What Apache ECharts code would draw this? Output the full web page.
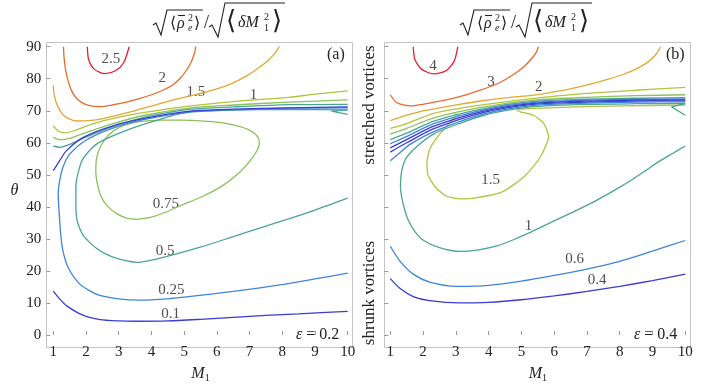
<!DOCTYPE html>
<html>
<head>
<meta charset="utf-8">
<script src="https://cdn.jsdelivr.net/npm/echarts@6/dist/echarts.min.js"></script>
<style>
  html, body { margin: 0; padding: 0; background: #fff; }
  #chart { width: 717px; height: 388px; }
</style>
</head>
<body>
<div id="chart"></div>
<script>
  // ---- data: contour lines, [M1, theta] ----
  const xTicks = [1, 2, 3, 4, 5, 6, 7, 8, 9, 10];
  const yTicks = [0, 10, 20, 30, 40, 50, 60, 70, 80, 90];

  // panel (a), epsilon = 0.2
  const a_25 = [[2.04, 90], [2.08, 86], [2.25, 83], [2.58, 81.6], [2.9, 82.5], [3.15, 85], [3.32, 90]];
  const a_2 = [[1.31, 90], [1.33, 86.5], [1.38, 82.5], [1.46, 79], [1.56, 76.2], [1.7, 74], [1.9, 72.4], [2.15, 71.5], [2.45, 71.3], [2.8, 71.8], [3.2, 72.6], [3.6, 73.7], [4.0, 75], [4.35, 76.4], [4.67, 78.2], [4.9, 80.4], [5.08, 82.8], [5.22, 85.3], [5.31, 87.8], [5.36, 90]];
  const a_15 = [[1, 78], [1.02, 75.5], [1.08, 72.8], [1.18, 70.5], [1.31, 68.6], [1.5, 67.4], [1.72, 66.8], [2.05, 66.9], [2.43, 67.4], [2.9, 68.5], [3.45, 69.9], [4.05, 71.6], [4.67, 73.4], [5.3, 74.9], [5.9, 76.5], [6.45, 78.5], [6.91, 80.9], [7.25, 83.2], [7.53, 85.4], [7.75, 87.6], [7.91, 90]];
  const a_1 = [[1, 65.3], [1.15, 63.7], [1.35, 63.1], [1.7, 64], [2.2, 65.9], [3, 68], [4, 69.8], [5.2, 71.5], [6, 72.4], [7, 73.3], [8.2, 74.2], [9, 75.2], [10, 76.2]];
  const a_075u = [[1, 61.7], [1.2, 61], [1.5, 61.4], [2, 63.2], [2.8, 65.9], [3.8, 68.6], [5.2, 70.9], [6.5, 71.8], [8.2, 72.7], [10, 73.4]];
  const a_075loop = [[3.55, 36.1], [4.0, 36.8], [4.45, 38.4], [4.87, 40.3], [5.59, 43.4], [6.2, 46.8], [6.7, 50.8], [7.05, 54.8], [7.25, 58], [7.3, 60.3], [7.2, 62.5], [6.95, 64.2], [6.5, 65.6], [5.85, 66.6], [5.0, 67.1], [4.26, 67.1], [3.6, 66.5], [3.05, 65], [2.7, 62.5], [2.45, 59], [2.32, 55], [2.3, 51], [2.35, 47], [2.45, 43.5], [2.65, 40.3], [2.95, 37.8], [3.25, 36.5], [3.55, 36.1]];
  const a_050u = [[1, 59], [1.2, 58.6], [1.5, 59.5], [2, 61.8], [2.8, 65], [3.8, 68], [5.2, 70.5], [6.5, 71.2], [8.2, 71.9], [10, 72]];
  const a_050 = [[10, 42.7], [9, 39], [8, 35.6], [7.53, 34.1], [6.5, 30.7], [5.49, 27.4], [4.5, 24.6], [3.55, 22.7], [2.94, 23.9], [2.6, 25.3], [2.33, 27], [2.1, 29], [1.92, 31], [1.8, 33.5], [1.72, 36.1], [1.69, 40], [1.69, 46.2], [1.75, 50.3], [1.9, 54.9], [2.31, 59.5], [3.02, 63], [4, 66.5], [5.2, 69.8], [6.5, 70.2], [8.2, 70.4], [10, 70.3]];
  const a_050cusp = [[10, 70.3], [9.5, 69.9], [10, 68.9]];
  const a_025 = [[10, 19.3], [9, 17.5], [8.03, 15.8], [6.5, 13.6], [5, 11.8], [4.5, 11.3], [3.65, 10.9], [3, 11.3], [2.33, 12.7], [1.82, 15.8], [1.46, 20.9], [1.3, 26], [1.23, 31], [1.18, 38], [1.15, 44], [1.2, 48.5], [1.3, 52.5], [1.49, 56.3], [2, 60.8], [2.82, 64.6], [3.83, 67.4], [5.2, 69.6], [6.5, 70.3], [8.2, 70.8], [10, 70.9]];
  const a_010u = [[1, 51.3], [1.2, 54.5], [1.39, 57.4], [1.9, 61.6], [2.82, 65.3], [3.83, 67.7], [5.2, 69.9], [6.5, 70.5], [8.2, 70.9], [10, 71.2]];
  const a_010 = [[1, 13.7], [1.2, 11.2], [1.41, 9.1], [1.92, 6.1], [2.43, 4.8], [3, 4.4], [3.5, 4.3], [4.5, 4.4], [5.5, 4.9], [6.5, 5.5], [7.5, 6.1], [8.5, 6.6], [10, 7.4]];
  const a_labels = [[2.76, 86.1, '2.5'], [4.33, 80.1, '2'], [5.36, 75.9, '1.5'], [7.12, 75, '1'], [4.44, 41, '0.75'], [4.42, 26.3, '0.5'], [4.61, 14.1, '0.25'], [4.59, 6.5, '0.1']];

  // panel (b), epsilon = 0.4
  const b_4 = [[1.7, 90], [1.75, 86], [1.95, 83], [2.33, 81.5], [2.7, 82.5], [2.95, 85.5], [3.06, 90]];
  const b_3 = [[1, 75], [1.2, 72.5], [1.61, 71.5], [2.3, 72.6], [3.03, 74.2], [3.7, 76.3], [4.3, 78.6], [4.76, 81.3], [5.1, 84], [5.32, 86.4], [5.46, 88.4], [5.52, 90]];
  const b_2 = [[1, 66.9], [1.4, 68.3], [1.85, 69.6], [2.33, 70.6], [3.1, 72], [3.86, 73.2], [4.6, 74.1], [5.38, 74.9], [6, 75.9], [6.59, 77.1], [7.1, 78.3], [7.6, 79.7], [8.12, 81.4], [8.55, 83.3], [8.9, 85.5], [9.12, 87.8], [9.25, 90]];
  const b_15u = [[1, 64.5], [1.5, 66], [2.33, 69.2], [3.86, 71.9], [5.38, 73.9], [7, 75.4], [8.5, 76.4], [10, 77.3]];
  const b_15loop = [[10, 71.8], [8, 71.5], [6, 71], [4.95, 70.5], [4.86, 70.1], [5.37, 68.6], [5.68, 66.1], [5.83, 62], [5.57, 55.4], [5.07, 49.3], [4.4, 44.6], [3.6, 42.8], [3.13, 42.5], [2.7, 43.4], [2.37, 46.2], [2.15, 50], [2.12, 54], [2.2, 58], [2.45, 62], [2.75, 65.5], [2.99, 68.1], [3.08, 68.6], [2.95, 69]];
  const b_gr = [[1, 62.7], [1.5, 64.5], [2.33, 67.8], [3.86, 71.2], [5.38, 73.3], [7, 74.2], [8.5, 74.7], [10, 75]];
  const b_te = [[1, 61], [1.5, 63], [2.33, 66.8], [3.86, 70.7], [5.38, 72.9], [7, 73.6], [8.5, 73.9], [10, 74.1]];
  const b_bl1 = [[1, 59.7], [1.5, 62], [2.33, 66], [3.86, 70.3], [5.38, 72.6], [7, 73.3], [8.5, 73.6], [10, 73.7]];
  const b_db1 = [[1, 58.4], [1.5, 61], [2.33, 65.2], [3.86, 69.9], [5.38, 72.3], [7, 73], [8.5, 73.3], [10, 73.4]];
  const b_db2 = [[1, 57.1], [1.5, 60], [2.33, 64.4], [3.86, 69.5], [5.38, 72], [7, 72.7], [8.5, 73], [10, 73.1]];
  const b_bl2 = [[1, 54.4], [1.3, 57], [1.6, 59.5], [2.33, 63.5], [3.86, 69], [5.38, 71.7], [7, 72.4], [8.5, 72.7], [10, 72.8]];
  const b_1 = [[10, 59], [9.6, 56.6], [9.2, 54.2], [8.8, 51.4], [8.42, 48.8], [7.91, 45.6], [7.5, 43.2], [7.1, 41.0], [6.6, 38.5], [6.08, 36.0], [5.6, 33.7], [5.2, 31.7], [4.7, 29.5], [4.25, 27.8], [3.7, 26.6], [3.13, 26.1], [2.5, 27.3], [2.02, 29.5], [1.75, 32.3], [1.55, 35.8], [1.42, 39.8], [1.34, 43.5], [1.31, 46.2], [1.33, 50], [1.38, 52.6], [1.5, 55.5], [1.8, 58.8], [2.33, 62.8], [3.1, 66], [3.86, 68.6], [4.6, 70.2], [5.38, 71.3], [7, 72], [8.5, 72.2], [10, 72.3]];
  const b_1cusp = [[10, 72.2], [9.58, 71.2], [10, 68.6]];
  const b_06 = [[1, 27.7], [1.3, 23], [1.7, 19], [2.2, 16.5], [3.03, 15.2], [4, 15.5], [5, 16.8], [6, 18.6], [7, 20.6], [8, 23], [9, 26.2], [10, 29.5]];
  const b_04 = [[1, 17.6], [1.3, 14.5], [1.7, 12], [2.2, 10.7], [3.13, 10], [4, 10.2], [5, 11], [6, 12.2], [7, 13.6], [8, 15.2], [9, 17], [10, 19]];
  const b_labels = [[2.3, 84, '4'], [4.07, 79.1, '3'], [5.53, 77.4, '2'], [4.06, 48.4, '1.5'], [5.22, 34, '1'], [6.62, 23.7, '0.6'], [7.31, 17.1, '0.4']];

  // colours of the contour levels
  const DB = '#3a3cd2', BL = '#3f84dc', TE = '#4aa596', GR = '#8cc15a', YG = '#b5c23c', YO = '#e2a834', OR = '#ea6a2c', RD = '#e1222b';

  const serif = '"Liberation Serif", "DejaVu Serif", serif';
  const ink = '#222';
  var chart = echarts.init(document.getElementById('chart'));

  function contour(data, color, grid, smooth) {
    return {
      type: 'line', xAxisIndex: grid, yAxisIndex: grid, data: data,
      showSymbol: false, symbol: 'none', smooth: smooth === undefined ? 0.25 : smooth,
      lineStyle: {color: color, width: 1.3}, silent: true, animation: false,
    };
  }

  function labels(data, grid) {
    return {
      type: 'scatter', xAxisIndex: grid, yAxisIndex: grid, symbolSize: 0, data: data,
      silent: true, animation: false,
      label: {
        show: true, position: 'inside', color: ink, fontFamily: serif, fontSize: 15,
        formatter: (p) => p.data[2],
      },
    };
  }

  function xAx(grid) {
    return {
      type: 'value', gridIndex: grid, min: 1, max: 10, interval: 1, offset: 6,
      axisLine: {show: false}, splitLine: {show: false},
      axisTick: {show: true, inside: true, length: 4, lineStyle: {color: '#999'}},
      axisLabel: {color: ink, fontFamily: serif, fontSize: 15, margin: 4},
      name: '{i|M}{s|1}', nameLocation: 'middle', nameGap: 24,
      nameTextStyle: {rich: {i: {fontFamily: serif, fontStyle: 'italic', fontSize: 16, color: ink}, s: {fontFamily: serif, fontSize: 10, color: ink, verticalAlign: 'bottom', padding: [8, 0, 0, 0]}}},
    };
  }

  function yAx(grid, showLabels) {
    return {
      type: 'value', gridIndex: grid, min: 0, max: 90, interval: 10, offset: grid === 0 ? 7 : 6,
      axisLine: {show: false}, splitLine: {show: false},
      axisTick: {show: true, inside: true, length: 4, lineStyle: {color: '#999'}},
      axisLabel: {show: showLabels, color: ink, fontFamily: serif, fontSize: 15, margin: 5},
      name: showLabels ? 'θ' : '', nameLocation: 'middle', nameRotate: 0, nameGap: 28,
      nameTextStyle: {fontFamily: serif, fontStyle: 'italic', fontSize: 16, color: ink},
    };
  }

  // title sqrt<rho_e^2> / sqrt<dM_1^2>, built piece by piece; dx shifts it to the second panel
  function txt(x, y, s, font) {
    return {type: 'text', x: x, y: y, silent: true, style: {text: s, font: font, fill: ink, align: 'left', verticalAlign: 'middle'}};
  }
  function stroke(points) {
    return {type: 'polyline', silent: true, shape: {points: points}, style: {stroke: ink, fill: 'none', lineWidth: 1.1}};
  }
  function titleParts(dx) {
    const f = '16px ' + serif, fi = 'italic 16px ' + serif, fs = '10px ' + serif, fsi = 'italic 10px ' + serif;
    const big = '26px ' + serif;
    return [
      stroke([[153 + dx, 25], [156 + dx, 23], [161 + dx, 35], [167 + dx, 10], [203 + dx, 10]]),
      txt(170 + dx, 24, '⟨', f),
      txt(177 + dx, 24, 'ρ', fi),
      stroke([[178 + dx, 15.5], [185 + dx, 15.5]]),
      txt(188 + dx, 18, '2', fs),
      txt(188 + dx, 28, 'e', fsi),
      txt(194 + dx, 24, '⟩', f),
      txt(204 + dx, 23, '/', '18px ' + serif),
      stroke([[209 + dx, 27], [212 + dx, 25], [218 + dx, 37], [225 + dx, 3], [285 + dx, 3]]),
      txt(226 + dx, 22, '⟨', big),
      txt(238 + dx, 23, 'δM', fi),
      txt(264 + dx, 17, '2', fs),
      txt(264 + dx, 28, '1', fs),
      txt(272 + dx, 22, '⟩', big),
    ];
  }

  const epsRich = {i: {fontFamily: serif, fontStyle: 'italic', fontSize: 16, fill: ink}, n: {fontFamily: serif, fontSize: 16, fill: ink}};

  let option = {
    backgroundColor: '#fff',
    animation: false,
    grid: [
      {left: 53.3, top: 46.7, width: 294.4, height: 295},
      {left: 390.3, top: 46.7, width: 295, height: 295},
    ],
    xAxis: [xAx(0), xAx(1)],
    yAxis: [yAx(0, true), yAx(1, false)],
    graphic: [
      {type: 'rect', shape: {x: 46.5, y: 42.5, width: 306, height: 305}, style: {fill: 'none', stroke: '#c4c4c4', lineWidth: 1}, silent: true},
      {type: 'rect', shape: {x: 384.5, y: 42.5, width: 306, height: 305}, style: {fill: 'none', stroke: '#c4c4c4', lineWidth: 1}, silent: true},
      ...titleParts(0),
      ...titleParts(307),
      txt(327, 55, '(a)', '16px ' + serif),
      txt(666, 55, '(b)', '16px ' + serif),
      {type: 'text', x: 296, y: 335, silent: true, style: {text: '{i|ε}{n| = 0.2}', rich: epsRich, align: 'left', verticalAlign: 'middle'}},
      {type: 'text', x: 634, y: 335, silent: true, style: {text: '{i|ε}{n| = 0.4}', rich: epsRich, align: 'left', verticalAlign: 'middle'}},
      {type: 'text', x: 370, y: 105, rotation: Math.PI / 2, silent: true, style: {text: 'stretched vortices', font: '17px ' + serif, fill: ink, align: 'center', verticalAlign: 'middle'}},
      {type: 'text', x: 370, y: 293, rotation: Math.PI / 2, silent: true, style: {text: 'shrunk vortices', font: '17px ' + serif, fill: ink, align: 'center', verticalAlign: 'middle'}},
    ],
    series: [
      contour(a_25, RD, 0), contour(a_2, OR, 0), contour(a_15, YO, 0), contour(a_1, YG, 0),
      contour(a_075u, GR, 0), contour(a_075loop, GR, 0), contour(a_050u, TE, 0), contour(a_050, TE, 0),
      contour(a_050cusp, TE, 0, false), contour(a_025, BL, 0), contour(a_010u, DB, 0), contour(a_010, DB, 0),
      labels(a_labels, 0),
      contour(b_4, RD, 1), contour(b_3, OR, 1), contour(b_2, YO, 1), contour(b_15u, YG, 1),
      contour(b_15loop, YG, 1, 0.2), contour(b_gr, GR, 1), contour(b_te, TE, 1), contour(b_bl1, BL, 1),
      contour(b_db1, DB, 1), contour(b_db2, DB, 1), contour(b_bl2, BL, 1), contour(b_1, TE, 1),
      contour(b_1cusp, TE, 1, false), contour(b_06, BL, 1), contour(b_04, DB, 1),
      labels(b_labels, 1),
    ],
  };
  chart.setOption(option);
</script>
</body>
</html>
